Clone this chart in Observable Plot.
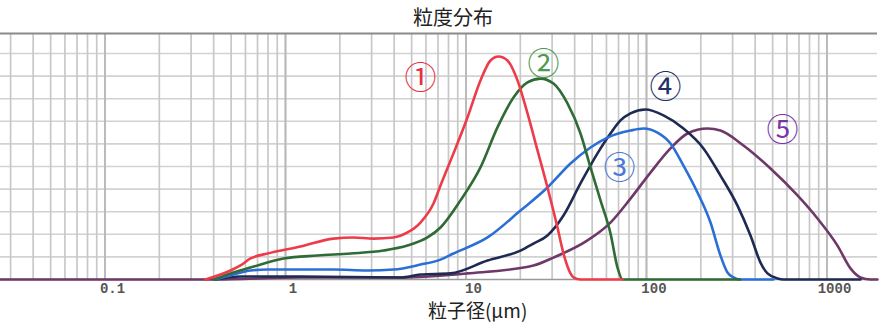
<!DOCTYPE html>
<html>
<head>
<meta charset="utf-8">
<script src="https://cdn.jsdelivr.net/npm/d3@7"></script>
<script src="https://cdn.jsdelivr.net/npm/@observablehq/plot@0.6"></script>
<style>
  html, body { margin: 0; padding: 0; background: #fff; }
  body { width: 887px; height: 324px; overflow: hidden; position: relative; font-family: "Noto Sans CJK JP", sans-serif; }
  #title { position: absolute; left: 453px; top: 6px; transform: translateX(-50%); font-size: 20px; line-height: 22px; color: #222; white-space: nowrap; }
  #chart { position: absolute; left: 0; top: 31px; }
  .side { position: absolute; left: 0; width: 7px; }
  g[aria-label="ticklabels"] text { letter-spacing: 5px; }
  g[aria-label="xtitle"] text { letter-spacing: 2px; }
</style>
</head>
<body>
<div id="title">粒度分布</div>
<div class="side" style="top:133px;height:53px;background:#9a9a9a"></div>
<div class="side" style="top:197px;height:53px;background:#e6e6e6"></div>
<div class="side" style="top:254px;height:56px;background:#f0f0f0"></div>
<div id="chart"></div>
<script>
// ---- axis / ticks ----
const xMin = 0.02637, xMax = 1905, yMax = 10.885;
const tickValues = [0.1, 1, 10, 100, 1000];
const tickLabels = ["0.1", "1", "10", "100", "1000"];
const gridY = [1, 2, 3, 4, 5, 6, 7, 8, 9, 10];
const xTitle = "粒子径(μm)";
const xTitleAt = 11.6;

// ---- series (particle size μm, frequency) ----
const size1 = [0.36, 0.496, 0.563, 0.64, 0.795, 1.211, 1.845, 2.381, 3.073, 3.966, 4.742, 5.596, 6.605, 7.224, 8.525, 10.19, 12.03, 13.67, 15.14, 16.98, 19.29, 21.92, 24.9, 28.28, 32.13, 34.69, 37.93, 39.41, 43.09, 73.6];
const freq1 = [0, 0.40, 0.62, 0.93, 1.15, 1.46, 1.81, 1.86, 1.81, 1.86, 2.08, 2.52, 3.36, 4.16, 5.58, 7.17, 8.81, 9.69, 9.87, 9.69, 8.81, 7.35, 5.71, 4.07, 2.30, 1.15, 0.27, 0.09, 0, 0];

const size2 = [0.40, 0.496, 0.64, 0.975, 1.504, 2.292, 3.491, 4.742, 6.118, 7.224, 9.322, 12.03, 14.94, 18.33, 21.92, 25.86, 30.53, 36.5, 43.09, 48.96, 55.62, 63.17, 69.08, 73.63, 330];
const freq2 = [0, 0.27, 0.53, 0.93, 1.06, 1.15, 1.28, 1.50, 1.86, 2.30, 3.50, 4.96, 6.73, 8.05, 8.72, 8.89, 8.67, 7.79, 6.46, 4.96, 3.50, 2.04, 0.53, 0, 0];

const size3 = [0.41, 0.515, 0.64, 0.795, 1.211, 1.845, 2.847, 3.966, 5.596, 7.224, 8.525, 13.16, 20.04, 28.28, 37.93, 48.96, 60.79, 81.54, 96.25, 115.1, 135.8, 160.3, 191.7, 226.3, 257, 281.1, 303.4, 330, 505];
const freq3 = [0, 0.22, 0.40, 0.44, 0.44, 0.44, 0.40, 0.44, 0.66, 0.88, 1.15, 1.86, 3.05, 4.07, 5.13, 5.84, 6.28, 6.59, 6.68, 6.50, 6.02, 5.04, 3.85, 2.52, 1.06, 0.31, 0.09, 0, 0];

const size4 = [0.41, 0.563, 1.211, 4.336, 5.596, 8.206, 13.16, 20.04, 23.66, 28.28, 34.69, 43.09, 53.52, 63.17, 71.78, 81.54, 98.74, 124.2, 160.3, 206.9, 257, 319.3, 376.9, 428.2, 468.2, 531.9, 570, 1533];
const freq4 = [0, 0.13, 0.13, 0.09, 0.22, 0.27, 0.84, 1.28, 1.59, 1.95, 2.83, 4.25, 5.58, 6.46, 7.04, 7.35, 7.52, 7.26, 6.68, 5.80, 4.60, 3.27, 1.95, 0.75, 0.27, 0.05, 0, 0];

const size5 = [0.02637, 0.41, 1.211, 4.336, 10.19, 23.66, 30.53, 47.12, 63.17, 81.54, 105.2, 135.8, 168.7, 217.8, 257, 344.6, 486.5, 686.6, 886, 1143.6, 1349.5, 1533, 1742, 1905];
const freq5 = [0, 0, 0.09, 0.09, 0.27, 0.62, 0.97, 1.73, 2.52, 3.58, 4.73, 5.80, 6.46, 6.68, 6.59, 5.93, 4.91, 3.72, 2.70, 1.50, 0.49, 0.09, 0, 0];

// ---- labels ----
const labelText = ["①", "②", "③", "④", "⑤"];
const labelX = [5.6, 26.9, 70.9, 127.4, 567];
const labelY = [8.89, 9.51, 4.91, 8.50, 6.59];
const lineColors = ["#ee3b4a", "#2f6b35", "#2b6fd6", "#1e2a52", "#6e3868"];
const labelColors = ["#e8323f", "#4d9a4d", "#4a79d6", "#22306a", "#7a35a8"];

const toRows = (xs, ys) => xs.map((x, i) => ({x, y: ys[i]}));
const series = [toRows(size1, freq1), toRows(size2, freq2), toRows(size3, freq3), toRows(size4, freq4), toRows(size5, freq5)];
const labels = labelText.map((t, i) => ({t, x: labelX[i], y: labelY[i], c: labelColors[i]}));
const ticks = tickValues.map((v, i) => ({v, t: tickLabels[i]}));

// vertical grid at 1..9 x 10^k inside domain
const gridX = [];
for (let k = -2; k <= 3; k++) for (let n = 1; n <= 9; n++) {
  const v = n * Math.pow(10, k);
  if (v > xMin && v < xMax) gridX.push(v);
}
const decades = gridX.filter(v => Math.abs(Math.log10(v) - Math.round(Math.log10(v))) < 1e-9);

const lineMark = (i) => Plot.line(series[i], {x: "x", y: "y", stroke: lineColors[i], strokeWidth: 2.6, curve: "monotone-x"});

const chart = Plot.plot({
  width: 887,
  height: 293,
  marginLeft: 0,
  marginRight: 10,
  marginTop: 2,
  marginBottom: 45,
  x: {type: "log", domain: [xMin, xMax], axis: null},
  y: {domain: [0, yMax], axis: null},
  style: {background: "#fff", overflow: "visible"},
  marks: [
    Plot.ruleY(gridY, {stroke: "#d2d2d2", strokeWidth: 1.6}),
    Plot.ruleX(gridX, {stroke: "#c8c8c8", strokeWidth: 1.7}),
    Plot.ruleX(decades, {stroke: "#bababa", strokeWidth: 1.9}),
    Plot.ruleY([0], {stroke: "#999", strokeWidth: 1.5}),
    lineMark(4),
    lineMark(3),
    lineMark(2),
    lineMark(1),
    lineMark(0),
    Plot.ruleY([yMax], {stroke: "#8a8a8a", strokeWidth: 2}),
    Plot.text(ticks, {
      x: "v", text: "t", frameAnchor: "bottom", lineAnchor: "middle", dy: 9, dx: 7.5,
      fontFamily: "Liberation Mono", fontWeight: "bold", fontSize: 14, fill: "#555", ariaLabel: "ticklabels"
    }),
    Plot.text([xTitle], {
      x: () => xTitleAt, text: d => d, frameAnchor: "bottom", lineAnchor: "middle", dy: 32,
      fontFamily: "Noto Sans CJK JP", fontSize: 19, fill: "#222", ariaLabel: "xtitle"
    }),
    Plot.text(labels, {
      x: "x", y: "y", text: "t", fill: "c",
      fontFamily: "Noto Sans CJK JP", fontSize: 32
    })
  ]
});
document.getElementById("chart").appendChild(chart);
</script>
</body>
</html>
